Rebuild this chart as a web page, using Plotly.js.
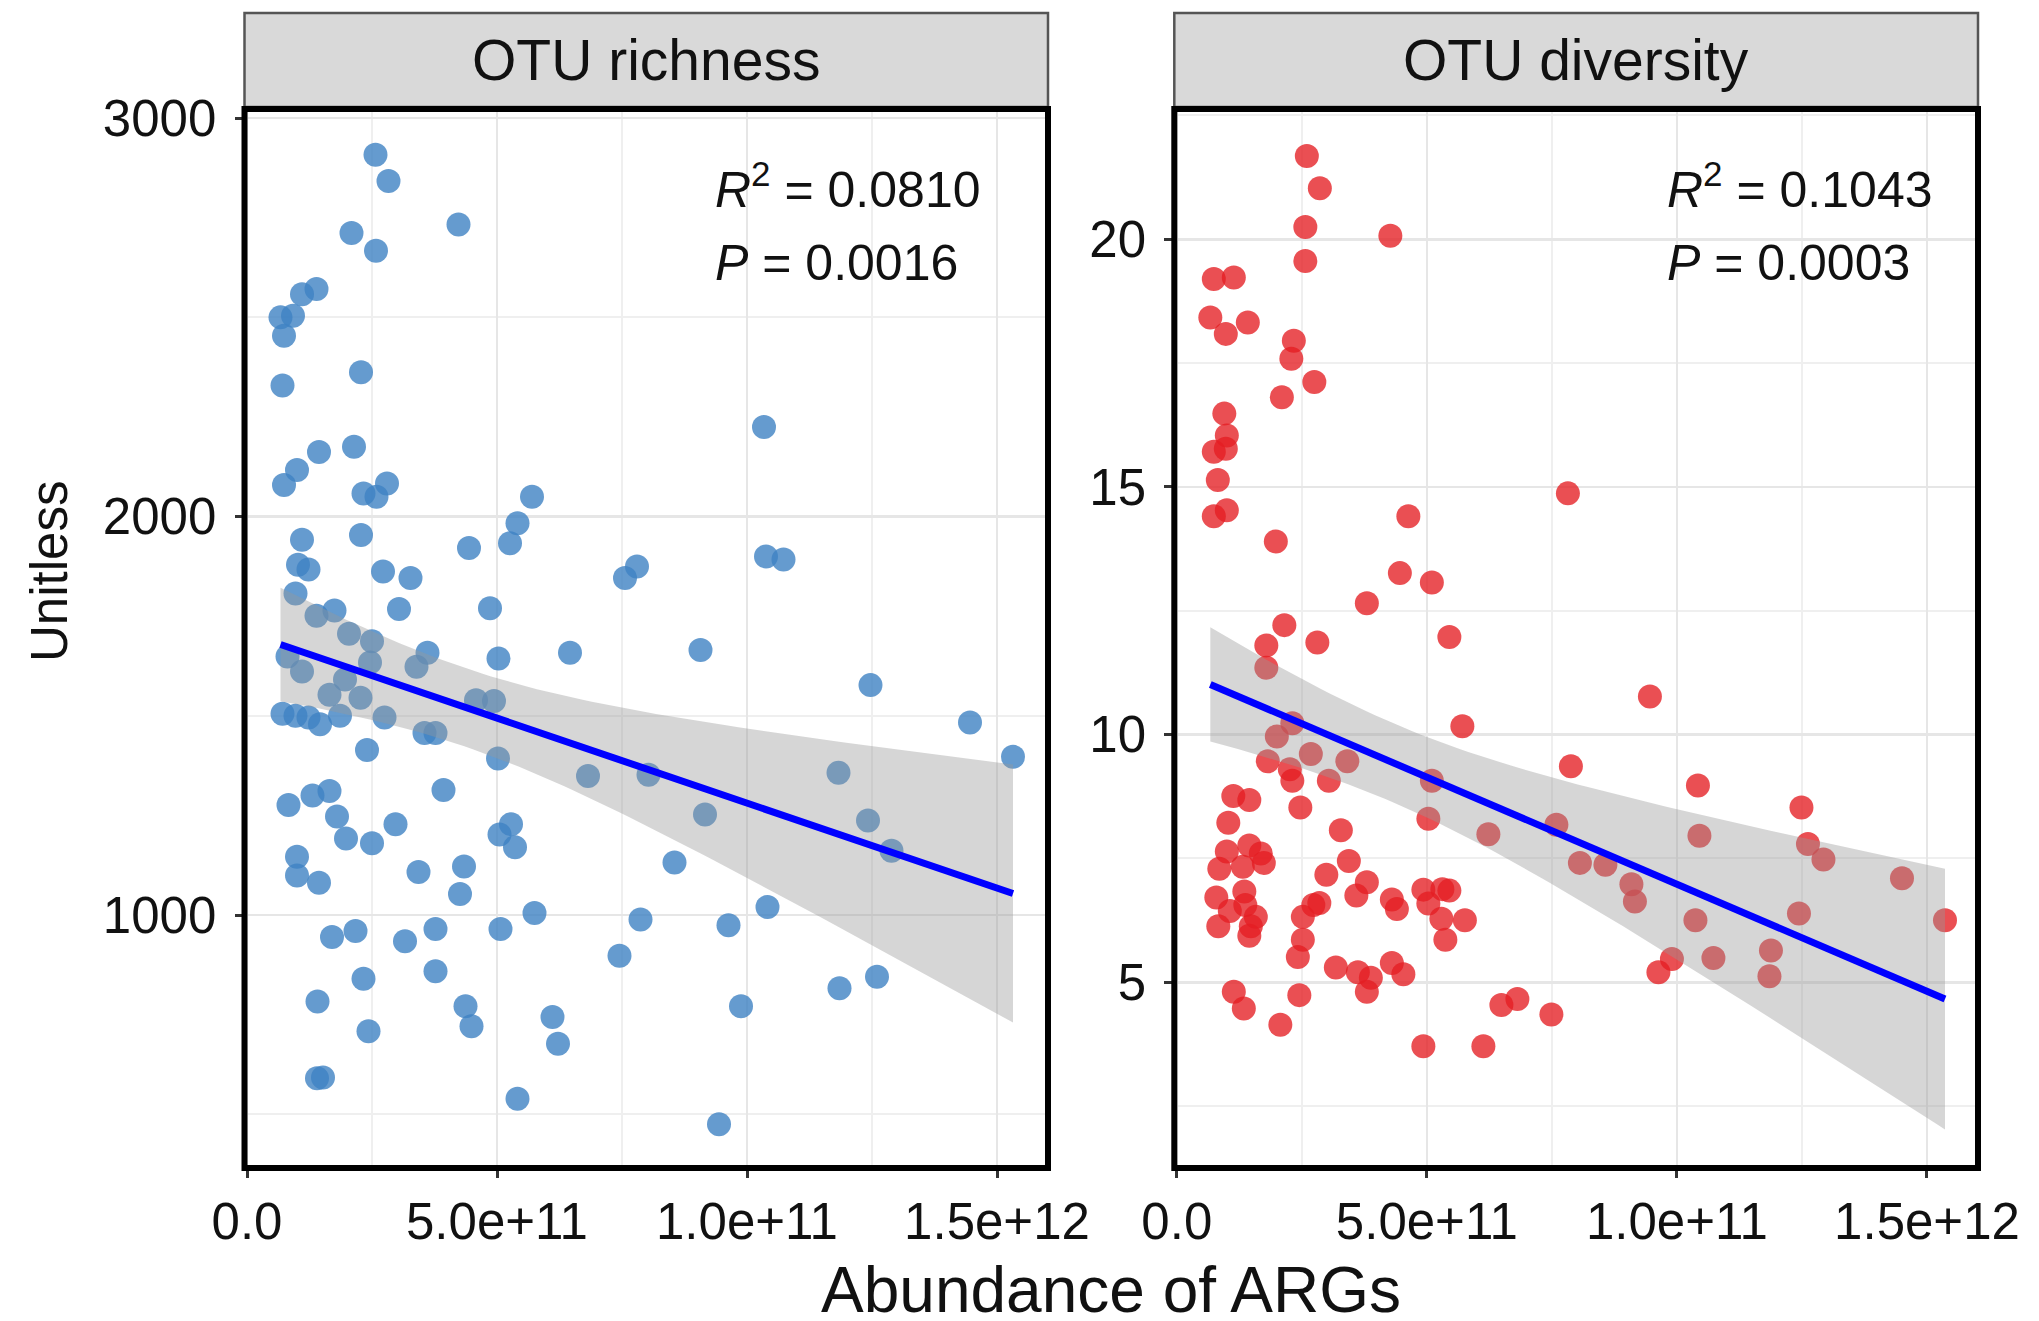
<!DOCTYPE html>
<html>
<head>
<meta charset="utf-8">
<script src="https://cdn.plot.ly/plotly-3.0.1.min.js"></script>
<style>html,body{margin:0;padding:0;background:#fff;}#chart{width:2039px;height:1321px;}</style>
</head>
<body>
<div id="chart"></div>
<script>
// ---- data (abundance of ARGs in units of 1e11) ----
const panelTitles = ["OTU richness", "OTU diversity"];
const xTickVals = [0, 5e11, 1e12, 1.5e12];
const xTickText = ["0.0", "5.0e+11", "1.0e+11", "1.5e+12"];
const statsRichness = ["<i>R</i><sup>2</sup> = 0.0810", "<i>P</i> = 0.0016"];
const statsDiversity = ["<i>R</i><sup>2</sup> = 0.1043", "<i>P</i> = 0.0003"];

const richnessAbundanceE11 = [2.57,2.83,4.23,2.09,2.58,1.39,1.10,0.67,0.92,0.74,2.28,0.71,10.34,1.44,2.14,1.00,0.74,2.33,2.59,2.80,5.70,5.41,5.26,4.44,2.28,1.10,1.02,1.23,2.72,3.27,7.56,7.80,10.38,10.73,
 0.97,1.39,1.75,3.04,4.86,2.04,2.50,0.81,1.10,2.46,3.61,3.39,5.03,6.46,9.07,12.47,1.96,1.65,2.27,4.58,4.94,0.71,0.97,1.23,1.46,1.86,2.75,3.55,3.77,14.46,15.32,2.40,5.02,6.82,8.03,11.83,3.93,0.83,1.31,1.65,1.80,1.98,2.50,2.97,5.28,5.05,5.36,9.16,12.42,12.89,8.55,1.00,1.00,1.44,3.43,4.34,4.26,5.75,10.41,7.87,9.63,5.07,3.77,2.17,1.70,3.16,7.45,2.33,3.77,12.60,11.85,1.41,4.37,4.49,6.11,6.22,9.88,2.43,1.40,1.52,5.41,9.44];
const richnessValues = [2908,2842,2733,2712,2667,2571,2558,2500,2504,2454,2362,2329,2225,2162,2175,2117,2079,2058,2050,2083,2050,1983,1933,1921,1954,1942,1879,1867,1862,1846,1846,1875,1900,1892,
 1807,1751,1764,1768,1770,1706,1687,1649,1611,1634,1658,1623,1644,1658,1665,1577,1591,1553,1545,1539,1537,1505,1500,1496,1479,1500,1496,1457,1457,1483,1397,1414,1393,1349,1352,1357,1314,1276,1300,1311,1247,1192,1180,1228,1228,1202,1170,1252,1237,1161,1132,1146,1099,1081,1108,1122,1053,1005,1020,989,974,965,965,960,945,934,898,840,859,845,816,783,771,721,744,677,771,708,590,592,539,475];

const diversityAbundanceE11 = [2.60,2.86,2.57,4.27,2.57,0.74,1.14,0.67,1.42,0.98,2.34,2.29,2.75,2.10,0.95,1.00,0.74,0.98,0.82,1.00,0.74,7.82,4.63,1.98,4.46,5.10,3.80,
 2.15,5.45,2.81,1.79,1.79,9.46,5.71,2.31,2.00,2.68,3.41,1.82,2.26,2.31,3.04,5.10,7.88,10.42,2.47,1.13,1.45,12.49,1.03,5.03,7.59,6.23,3.28,10.45,12.62,12.93,1.00,1.45,1.68,1.74,0.85,1.32,3.44,8.06,8.57,2.99,14.50,3.80,9.09,9.16,3.59,4.30,4.93,5.31,5.45,0.79,1.35,1.37,2.73,2.85,4.40,5.03,1.06,1.58,2.52,5.29,5.76,0.83,1.48,10.37,12.44,15.36,1.45,5.37,2.52,11.88,2.42,9.90,10.73,3.18,3.62,3.88,4.30,4.53,9.63,11.85,1.14,3.80,2.45,1.34,6.81,6.49,7.49,2.07,4.93,6.13];
const diversityValues = [21.68,21.03,20.25,20.07,19.56,19.20,19.23,18.42,18.32,18.09,17.95,17.59,17.12,16.81,16.48,16.04,15.71,15.77,15.14,14.53,14.41,14.87,14.41,13.90,13.26,13.07,12.65,
 12.21,11.97,11.86,11.80,11.35,10.77,10.17,10.23,9.96,9.61,9.46,9.46,9.30,9.07,9.07,9.07,9.36,8.97,8.53,8.76,8.68,8.53,8.22,8.30,8.18,7.99,8.07,7.96,7.79,7.48,7.64,7.76,7.60,7.41,7.29,7.33,7.45,7.41,7.37,7.17,7.10,7.02,6.98,6.63,6.75,6.67,6.87,6.88,6.85,6.71,6.83,6.56,6.56,6.60,6.48,6.59,6.44,6.32,6.32,6.28,6.25,6.13,6.13,6.25,6.39,6.25,5.94,5.86,5.86,5.64,5.51,5.47,5.49,5.30,5.20,5.09,5.39,5.16,5.20,5.12,4.81,4.81,4.74,4.47,4.66,4.54,4.35,4.14,3.71,3.71];

// ---- helpers ----
const E11 = 1e11;
const richX = richnessAbundanceE11.map(v => v * E11);
const divX = diversityAbundanceE11.map(v => v * E11);

// linear model with 95% confidence band (as geom_smooth(method="lm"))
function lmBand(xs, ys, steps) {
  const n = xs.length;
  const mx = xs.reduce((a, b) => a + b, 0) / n;
  const my = ys.reduce((a, b) => a + b, 0) / n;
  let sxx = 0, sxy = 0;
  for (let i = 0; i < n; i++) { sxx += (xs[i] - mx) ** 2; sxy += (xs[i] - mx) * (ys[i] - my); }
  const b = sxy / sxx, a = my - b * mx;
  let sse = 0;
  for (let i = 0; i < n; i++) sse += (ys[i] - a - b * xs[i]) ** 2;
  const s = Math.sqrt(sse / (n - 2));
  const t = 1.981;
  const xmin = Math.min(...xs), xmax = Math.max(...xs);
  const gx = [], fit = [], lo = [], hi = [];
  for (let k = 0; k <= steps; k++) {
    const x = xmin + (xmax - xmin) * k / steps;
    const f = a + b * x;
    const se = s * Math.sqrt(1 / n + (x - mx) ** 2 / sxx);
    gx.push(x); fit.push(f); lo.push(f - t * se); hi.push(f + t * se);
  }
  return { gx, fit, lo, hi };
}

const FONT = "Liberation Sans, Arial, Helvetica, sans-serif";
const bandR = lmBand(richX, richnessValues, 80);
const bandD = lmBand(divX, diversityValues, 80);

function bandTrace(b, xa, ya) {
  return {
    x: b.gx.concat(b.gx.slice().reverse()),
    y: b.hi.concat(b.lo.slice().reverse()),
    xaxis: xa, yaxis: ya, type: "scatter", mode: "lines",
    fill: "toself", fillcolor: "rgba(153,153,153,0.4)",
    line: { width: 0 }, hoverinfo: "skip", showlegend: false
  };
}
function fitTrace(b, xa, ya) {
  return { x: b.gx, y: b.fit, xaxis: xa, yaxis: ya, type: "scatter", mode: "lines",
    line: { color: "#0000FF", width: 7 }, showlegend: false };
}

const traces = [
  { x: richX, y: richnessValues, xaxis: "x", yaxis: "y", type: "scatter", mode: "markers",
    marker: { size: 24, color: "rgba(62,130,195,0.8)", line: { width: 0 } }, showlegend: false },
  bandTrace(bandR, "x", "y"),
  fitTrace(bandR, "x", "y"),
  { x: divX, y: diversityValues, xaxis: "x2", yaxis: "y2", type: "scatter", mode: "markers",
    marker: { size: 24, color: "rgba(228,30,35,0.78)", line: { width: 0 } }, showlegend: false },
  bandTrace(bandD, "x2", "y2"),
  fitTrace(bandD, "x2", "y2")
];

const W = 2039, H = 1321;
const px = v => v / W, py = v => (H - v) / H;
const plotTop = 109, plotBot = 1168;
const leftL = 244.5, leftR = 1048, rightL = 1174.3, rightR = 1978;

const xCommon = {
  tickmode: "array", tickvals: xTickVals, ticktext: xTickText,
  range: [-0.05e11, 16.02e11],
  ticks: "outside", ticklen: 9, tickwidth: 3, tickcolor: "#333",
  tickfont: { family: FONT, size: 51, color: "#111" },
  showgrid: true, gridcolor: "#e6e6e6", gridwidth: 2.5,
  minor: { tickmode: "array", tickvals: [2.5e11, 7.5e11, 1.25e12], showgrid: true, gridcolor: "#efefef", gridwidth: 2, ticks: "" },
  zeroline: false, showline: false, fixedrange: true
};
const yCommon = {
  ticks: "outside", ticklen: 9, tickwidth: 3, tickcolor: "#333",
  tickfont: { family: FONT, size: 51, color: "#111" },
  ticklabelstandoff: 8,
  showgrid: true, gridcolor: "#e6e6e6", gridwidth: 2.5,
  zeroline: false, showline: false, fixedrange: true,
  domain: [py(plotBot), py(plotTop)]
};

const stripY0 = py(107), stripY1 = py(13);

const layout = {
  width: W, height: H,
  margin: { l: 0, r: 0, t: 0, b: 0 },
  paper_bgcolor: "#ffffff", plot_bgcolor: "#ffffff",
  showlegend: false,
  font: { family: FONT, color: "#111" },
  xaxis: Object.assign({}, xCommon, { domain: [px(leftL), px(leftR)], anchor: "y" }),
  xaxis2: Object.assign({}, xCommon, { domain: [px(rightL), px(rightR)], anchor: "y2" }),
  yaxis: Object.assign({}, yCommon, { anchor: "x", range: [365, 3023], tickmode: "linear", tick0: 0, dtick: 1000,
    minor: { tickmode: "linear", tick0: 0, dtick: 500, showgrid: true, gridcolor: "#efefef", gridwidth: 2, ticks: "" } }),
  yaxis2: Object.assign({}, yCommon, { anchor: "x2", range: [1.25, 22.63], tickmode: "linear", tick0: 0, dtick: 5,
    minor: { tickmode: "linear", tick0: 0, dtick: 2.5, showgrid: true, gridcolor: "#efefef", gridwidth: 2, ticks: "" } }),
  shapes: [
    { type: "rect", xref: "paper", yref: "paper", x0: px(leftL), x1: px(leftR), y0: stripY0, y1: stripY1,
      fillcolor: "#d9d9d9", line: { color: "#555", width: 2.5 }, layer: "below" },
    { type: "rect", xref: "paper", yref: "paper", x0: px(rightL), x1: px(rightR), y0: stripY0, y1: stripY1,
      fillcolor: "#d9d9d9", line: { color: "#555", width: 2.5 }, layer: "below" },
    { type: "rect", xref: "x domain", yref: "y domain", x0: 0, x1: 1, y0: 0, y1: 1,
      line: { color: "#000", width: 6 }, layer: "above" },
    { type: "rect", xref: "x2 domain", yref: "y2 domain", x0: 0, x1: 1, y0: 0, y1: 1,
      line: { color: "#000", width: 6 }, layer: "above" }
  ],
  annotations: [
    { text: panelTitles[0], xref: "paper", yref: "paper", x: px((leftL + leftR) / 2), y: py(60),
      xanchor: "center", yanchor: "middle", showarrow: false, font: { family: FONT, size: 57, color: "#111" } },
    { text: panelTitles[1], xref: "paper", yref: "paper", x: px((rightL + rightR) / 2), y: py(60),
      xanchor: "center", yanchor: "middle", showarrow: false, font: { family: FONT, size: 57, color: "#111" } },
    { text: statsRichness[0], xref: "x domain", yref: "y domain", x: 0.583, y: 0.927,
      xanchor: "left", yanchor: "middle", showarrow: false, font: { family: FONT, size: 50, color: "#111" } },
    { text: statsRichness[1], xref: "x domain", yref: "y domain", x: 0.583, y: 0.855,
      xanchor: "left", yanchor: "middle", showarrow: false, font: { family: FONT, size: 50, color: "#111" } },
    { text: statsDiversity[0], xref: "x2 domain", yref: "y2 domain", x: 0.61, y: 0.927,
      xanchor: "left", yanchor: "middle", showarrow: false, font: { family: FONT, size: 50, color: "#111" } },
    { text: statsDiversity[1], xref: "x2 domain", yref: "y2 domain", x: 0.61, y: 0.855,
      xanchor: "left", yanchor: "middle", showarrow: false, font: { family: FONT, size: 50, color: "#111" } },
    { text: "Unitless", xref: "paper", yref: "paper", x: px(49), y: py(572), textangle: -90,
      xanchor: "center", yanchor: "middle", showarrow: false, font: { family: FONT, size: 51, color: "#111" } },
    { text: "Abundance of ARGs", xref: "paper", yref: "paper", x: px(1111), y: py(1290),
      xanchor: "center", yanchor: "middle", showarrow: false, borderpad: 0, font: { family: FONT, size: 64, color: "#111" } }
  ]
};

Plotly.newPlot("chart", traces, layout, { staticPlot: true, displayModeBar: false });
</script>
</body>
</html>
